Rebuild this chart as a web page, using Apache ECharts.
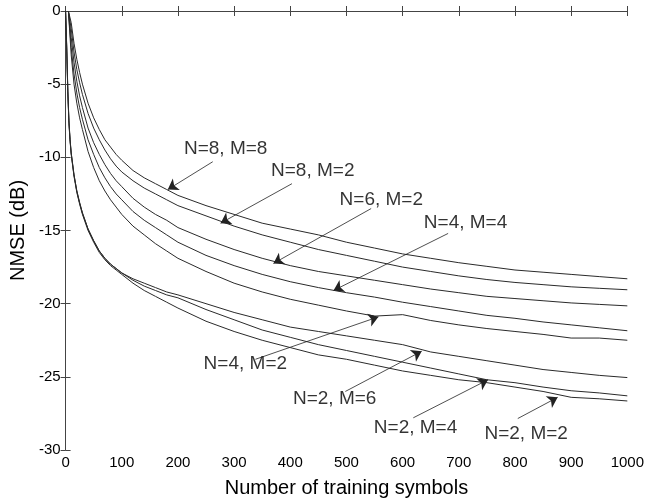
<!DOCTYPE html>
<html>
<head>
<meta charset="utf-8">
<script src="https://cdn.jsdelivr.net/npm/echarts@6/dist/echarts.min.js"></script>
<style>
  html, body { margin: 0; padding: 0; background: #fff; }
  #chart { width: 647px; height: 504px; }
</style>
</head>
<body>
<div id="chart"></div>
<script>
// x positions (training symbols)
var xUpper = [5, 10, 15, 20, 25, 30, 40, 50, 60, 70, 80, 90, 100, 120, 140, 160, 180, 200,
  250, 300, 350, 400, 450, 500, 550, 600, 650, 700, 750, 800, 850, 900, 950, 1000];
var xLower = [0, 2, 4, 6, 8, 10, 15, 20, 25, 30, 40, 50, 60, 70, 80, 90, 100, 120, 140, 160, 180, 200,
  250, 300, 350, 400, 450, 500, 550, 600, 650, 700, 750, 800, 850, 900, 950, 1000];

// NMSE (dB)
var n8m8 = [0, -0.8, -2.2, -3.3, -4.2, -5.0, -6.3, -7.3, -8.1, -8.8, -9.3, -9.8, -10.2, -10.9, -11.4, -11.8, -12.2, -12.6,
  -13.3, -13.9, -14.5, -14.9, -15.3, -15.8, -16.2, -16.6, -16.9, -17.2, -17.45, -17.7, -17.85, -18.0, -18.15, -18.3];
var n8m2 = [0, -1.2, -2.8, -4.0, -4.9, -5.7, -7.0, -8.0, -8.8, -9.5, -10.1, -10.6, -11.0, -11.6, -12.1, -12.5, -12.9, -13.3,
  -14.0, -14.7, -15.3, -15.8, -16.3, -16.7, -17.1, -17.5, -17.8, -18.1, -18.35, -18.55, -18.7, -18.85, -18.95, -19.05];
var n6m2 = [0, -1.8, -3.5, -4.8, -5.8, -6.6, -8.0, -9.0, -9.8, -10.5, -11.1, -11.6, -12.0, -12.8, -13.4, -13.9, -14.3, -14.8,
  -15.6, -16.3, -16.9, -17.4, -17.8, -18.1, -18.4, -18.7, -19.0, -19.25, -19.5, -19.65, -19.8, -19.95, -20.05, -20.15];
var n4m4 = [0, -2.5, -4.3, -5.6, -6.6, -7.4, -8.8, -9.8, -10.7, -11.4, -12.0, -12.5, -12.9, -13.7, -14.3, -14.8, -15.3, -15.8,
  -16.7, -17.4, -18.0, -18.5, -18.9, -19.25, -19.55, -19.9, -20.2, -20.5, -20.8, -21.0, -21.25, -21.45, -21.65, -21.85];
var n4m2 = [0, -3.0, -5.0, -6.3, -7.3, -8.1, -9.6, -10.7, -11.6, -12.3, -12.9, -13.4, -13.9, -14.7, -15.3, -15.9, -16.4, -16.9,
  -17.8, -18.6, -19.2, -19.7, -20.1, -20.5, -20.85, -20.75, -21.15, -21.45, -21.7, -21.9, -22.1, -22.35, -22.35, -22.5];
var n2m6 = [0, -2.5, -5.5, -7.6, -8.8, -9.7, -11.2, -12.3, -13.1, -13.8, -14.9, -15.7, -16.4, -16.9, -17.3, -17.6, -17.9,
  -18.3, -18.6, -18.9, -19.2, -19.4, -20.0, -20.6, -21.1, -21.6, -21.9, -22.2, -22.5, -22.8, -23.3, -23.6, -23.9, -24.2, -24.5, -24.7, -24.9, -25.05];
var n2m4 = [0, -2.4, -5.4, -7.5, -8.8, -9.7, -11.2, -12.3, -13.1, -13.8, -14.9, -15.7, -16.4, -16.9, -17.3, -17.6, -17.9,
  -18.4, -18.8, -19.1, -19.4, -19.6, -20.4, -21.1, -21.8, -22.3, -22.8, -23.2, -23.6, -24.0, -24.4, -24.8, -25.2, -25.4, -25.7, -25.95, -26.1, -26.3];
var n2m2 = [0, -2.6, -5.6, -7.7, -8.9, -9.8, -11.3, -12.4, -13.2, -13.9, -15.0, -15.8, -16.5, -17.0, -17.4, -17.7, -18.0,
  -18.6, -19.1, -19.5, -19.9, -20.3, -21.2, -21.9, -22.5, -23.0, -23.5, -23.8, -24.2, -24.6, -24.9, -25.2, -25.4, -25.7, -26.0, -26.4, -26.5, -26.65];

var xTicks = [0, 100, 200, 300, 400, 500, 600, 700, 800, 900, 1000];
var yTicks = [-30, -25, -20, -15, -10, -5, 0];

// curve labels: text centre, arrow start, arrow tip (data coords)
var notes = [
  { name: 'N=8, M=8', text: [285, -9.4], from: [262, -10.3], to: [182, -12.2] },
  { name: 'N=8, M=2', text: [440, -10.95], from: [403, -11.8], to: [276, -14.5] },
  { name: 'N=6, M=2', text: [562, -12.9], from: [544, -13.5], to: [370, -17.25] },
  { name: 'N=4, M=4', text: [712, -14.45], from: [681, -15.2], to: [477, -19.1] },
  { name: 'N=4, M=2', text: [320, -24.1], from: [338, -23.8], to: [557, -20.9] },
  { name: 'N=2, M=6', text: [479, -26.5], from: [498, -26.0], to: [634, -23.25] },
  { name: 'N=2, M=4', text: [623, -28.45], from: [619, -27.8], to: [752, -25.2] },
  { name: 'N=2, M=2', text: [820, -28.9], from: [805, -27.85], to: [876, -26.4] }
];

function pairs(xs, ys) {
  return xs.map(function (x, i) { return [x, ys[i]]; });
}

var font = 'Liberation Sans, Arial, Helvetica, sans-serif';
var curves = [
  [xUpper, n8m8], [xUpper, n8m2], [xUpper, n6m2], [xUpper, n4m4], [xUpper, n4m2],
  [xLower, n2m6], [xLower, n2m4], [xLower, n2m2]
];

var series = curves.map(function (c) {
  return {
    type: 'line',
    data: pairs(c[0], c[1]),
    showSymbol: false,
    symbol: 'none',
    lineStyle: { color: '#2a2a2a', width: 1 },
    silent: true
  };
});

series.push({
  type: 'scatter',
  symbolSize: 0,
  silent: true,
  data: notes.map(function (n) { return { name: n.name, value: n.text }; }),
  label: {
    show: true,
    position: 'inside',
    formatter: '{b}',
    color: '#000',
    fontSize: 19,
    fontFamily: font
  },
  markLine: {
    silent: true,
    symbol: ['none', 'arrow'],
    symbolSize: 10,
    label: { show: false },
    lineStyle: { color: '#222', width: 0.8, type: 'solid' },
    data: notes.map(function (n) {
      return [{ coord: n.from }, { coord: n.to }];
    })
  }
});

var axisLineStyle = { color: '#444', width: 1 };
var plain = function (v) { return String(v); };

var option = {
  animation: false,
  backgroundColor: '#fff',
  grid: { left: 62, right: 18, top: 11, bottom: 54 },
  xAxis: [
    {
      type: 'value', min: xTicks[0], max: xTicks[xTicks.length - 1], interval: 100,
      name: 'Number of training symbols', nameLocation: 'middle', nameGap: 28,
      nameTextStyle: { fontSize: 20, color: '#000', fontFamily: font },
      axisLine: { show: true, lineStyle: axisLineStyle },
      axisTick: { show: true, inside: true, length: 5, lineStyle: axisLineStyle },
      axisLabel: { fontSize: 15, color: '#000', margin: 5, fontFamily: font, formatter: plain, showMinLabel: true, showMaxLabel: true },
      splitLine: { show: false }
    },
    {
      type: 'value', position: 'top', min: xTicks[0], max: xTicks[xTicks.length - 1], interval: 100,
      axisLine: { show: true, lineStyle: axisLineStyle },
      axisTick: { show: true, inside: true, length: 5, lineStyle: axisLineStyle },
      axisLabel: { show: false },
      splitLine: { show: false }
    }
  ],
  yAxis: [
    {
      type: 'value', min: yTicks[0], max: yTicks[yTicks.length - 1], interval: 5,
      name: 'NMSE (dB)', nameLocation: 'middle', nameGap: 36,
      nameTextStyle: { fontSize: 20, color: '#000', fontFamily: font },
      axisLine: { show: true, lineStyle: axisLineStyle },
      axisTick: { show: true, inside: true, length: 5, lineStyle: axisLineStyle },
      axisLabel: { fontSize: 15, color: '#000', margin: 5, fontFamily: font, formatter: plain, showMinLabel: true, showMaxLabel: true },
      splitLine: { show: false }
    },
    {
      type: 'value', position: 'right', min: yTicks[0], max: yTicks[yTicks.length - 1], interval: 5,
      axisLine: { show: true, lineStyle: axisLineStyle },
      axisTick: { show: true, inside: true, length: 5, lineStyle: axisLineStyle },
      axisLabel: { show: false },
      splitLine: { show: false }
    }
  ],
  series: series
};

var chart = echarts.init(document.getElementById('chart'), null, { renderer: 'canvas' });
chart.setOption(option);
</script>
</body>
</html>
